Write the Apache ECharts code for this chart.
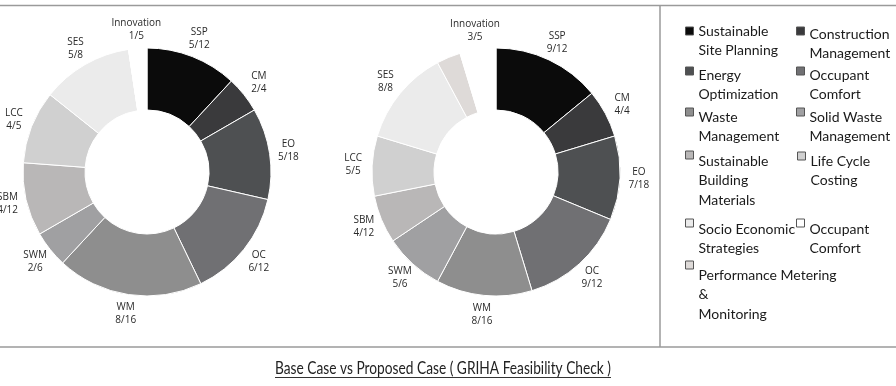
<!DOCTYPE html>
<html>
<head>
<meta charset="utf-8">
<script src="https://cdn.jsdelivr.net/npm/echarts@6/dist/echarts.min.js"></script>
<style>
html,body{margin:0;padding:0;background:#fff;}
#c{width:896px;height:386px;}
</style>
</head>
<body>
<div id="c"></div>
<script>
// ---- data ----
const categories = ['Sustainable Site Planning','Construction Management','Energy Optimization','Occupant Comfort','Waste Management','Solid Waste Management','Sustainable Building Materials','Life Cycle Costing','Socio Economic Strategies','Performance Metering & Monitoring','Innovation'];
const abbreviations = ['SSP','CM','EO','OC','WM','SWM','SBM','LCC','SES','PMM','Innovation'];
const maxPoints = [12,4,18,12,16,6,12,5,8,0,5];
const baseCase = [5,2,5,6,8,2,4,4,5,0,1];
const proposedCase = [9,4,7,9,8,5,4,5,8,2,3];
const labelled = [true,true,true,true,true,true,true,true,true,false,true];
const legendOrder = [0,1,2,3,4,5,6,7,8,10,9];
const legendText = ['Sustainable\nSite Planning','Construction\nManagement','Energy\nOptimization','Occupant\nComfort','Waste\nManagement','Solid Waste\nManagement','Sustainable\nBuilding\nMaterials','Life Cycle\nCosting','Socio Economic\nStrategies','Performance Metering\n&\nMonitoring','Occupant\nComfort'];
const chartTitle = 'Base Case vs Proposed Case ( GRIHA Feasibility Check )';

// ---- styles / layout ----
const palette = ['#0b0b0b','#3a3a3c','#4e5052','#707073','#8e8e8e','#a0a0a2','#b9b7b7','#d0d0d0','#ebebeb','#dedad8','#ffffff'];
const legendIconX = [685,796,685,796,685,796,685,797,685,796,685];
const legendIconY = [27,27,67,67,108,108,151,152,219,219,261];
const legendTextY = [31,34,75,75,117,117,161,161,229,229,275];
const ICON = 8, LH = 19.5;
const TITLE_FONT = "17px Lato";
const TITLE_W = 336;

const chart = echarts.init(document.getElementById('c'), null, {renderer:'canvas'});

function pieData(vals){
  return categories.map((n,i)=>({name:n, value:vals[i], label:{show:labelled[i]}}));
}
function pieSeries(vals, cx){
  return {
    type:'pie', center:[cx,172], radius:[62,124], startAngle:90, clockwise:true,
    avoidLabelOverlap:false, emphasis:{disabled:true},
    itemStyle:{borderColor:'#ffffff', borderWidth:1},
    label:{position:'outside', fontFamily:'Open Sans', fontSize:10, color:'#2a2a2a', lineHeight:13,
      bleedMargin:-300,
      formatter:p=>abbreviations[p.dataIndex]+'\n'+p.value+'/'+maxPoints[p.dataIndex]},
    labelLine:{show:true, length:19, length2:0, lineStyle:{opacity:0}},
    labelLayout:function(p){
      const pts=p.labelLinePoints;
      if(!pts) return {};
      return {x:pts[1][0], y:pts[1][1], align:'center', verticalAlign:'middle'};
    },
    data:pieData(vals)
  };
}

const legends = legendOrder.map((ci,k)=>{
  const n = legendText[ci].split('\n').length;
  const d = legendTextY[k] - (legendIconY[k] + ICON/2);
  const S = Math.max(1, (n-1)*LH + 2*d);
  const H = S + n*LH;
  const off = Math.min(0, ICON/2 - H/2);
  return {
    data:[categories[ci]], left:legendIconX[k], top:legendIconY[k]+off, padding:0,
    icon:'rect', itemWidth:ICON, itemHeight:ICON, itemGap:0, selectedMode:false,
    formatter:name=>'{s| }\n'+legendText[categories.indexOf(name)].split('\n').map(l=>'{t|'+l+'}').join('\n'),
    itemStyle:{borderColor:'#555', borderWidth:1},
    textStyle:{fontFamily:'Lato', fontSize:14, color:'#1a1a1a', lineHeight:LH,
      rich:{
        s:{fontSize:1, lineHeight:S},
        t:{fontFamily:'Lato', fontSize:14, color:'#1a1a1a', lineHeight:LH}
      }}
  };
});

// squeeze the title to the reference's condensed width
const ctx = document.createElement('canvas').getContext('2d');
ctx.font = TITLE_FONT;
const titleScale = TITLE_W / ctx.measureText(chartTitle).width;

chart.setOption({
  animation:false,
  color:palette,
  legend:legends,
  series:[pieSeries(baseCase,147), pieSeries(proposedCase,496)],
  graphic:[
    {type:'line', shape:{x1:0,y1:5.5,x2:896,y2:5.5}, style:{stroke:'#9a9a9a', lineWidth:1.5}},
    {type:'line', shape:{x1:660,y1:5.5,x2:660,y2:347}, style:{stroke:'#9a9a9a', lineWidth:1.5}},
    {type:'line', shape:{x1:0,y1:347,x2:896,y2:347}, style:{stroke:'#9a9a9a', lineWidth:1.5}},
    {type:'text', x:443, y:369, scaleX:titleScale, style:{text:chartTitle, align:'center', verticalAlign:'middle',
      font:TITLE_FONT, fill:'#222'}},
    {type:'line', shape:{x1:275,y1:377.5,x2:611,y2:377.5}, style:{stroke:'#333', lineWidth:1}}
  ]
});
</script>
</body>
</html>
